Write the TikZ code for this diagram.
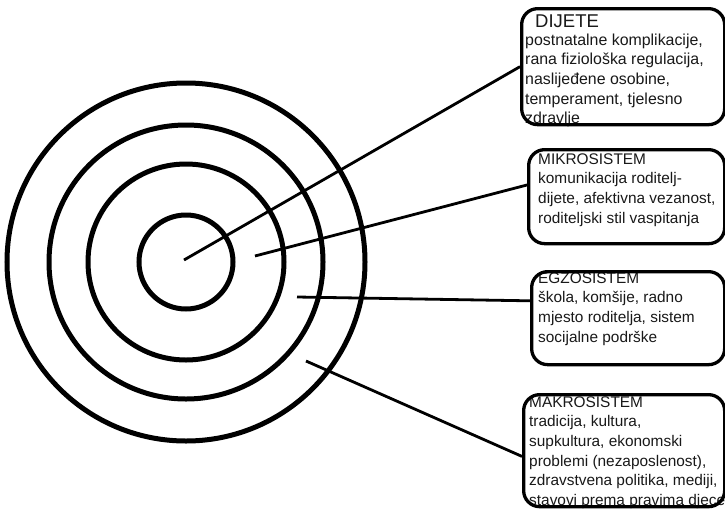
\documentclass[tikz,border=0pt]{standalone}
\usepackage{fontspec}
\setmainfont{Liberation Sans}
\usetikzlibrary{calc}
\newcommand\bodyfont{\fontsize{15.4}{19.6}\selectfont}
\newcommand\bigbodyfont{\fontsize{15.9}{19.6}\selectfont}
\newcommand\titlefont{\fontsize{18.5}{21}\selectfont}
\tikzset{
  ring/.style={line width=5pt},
  conn/.style={line width=2.8pt},
  infobox/.style={draw, line width=3.3pt, rounded corners=16pt, inner sep=0pt, anchor=north west},
  boxtext/.style={anchor=north west, inner sep=0pt, align=left, font=\bodyfont, text=black!90},
}
\begin{document}
\begin{tikzpicture}[x=1pt, y=-1pt]
\useasboundingbox (0,0) rectangle (725,509);
\clip (0,0) rectangle (725,509);
\fill[white] (0,0) rectangle (725,509);
% rings
\coordinate (ctr) at (186,262);
\draw[ring] (ctr) circle[radius=47pt];
\draw[ring] (ctr) circle[radius=98pt];
\draw[ring] (ctr) circle[radius=137pt];
\draw[ring] (ctr) circle[radius=179pt];
% texts
\node[anchor=base west, inner sep=0pt, font=\titlefont, text=black!90] (t1h) at (535,27) {DIJETE};
\node[boxtext, font=\bigbodyfont] (t1) at (525,31) {\rule{0pt}{14pt}postnatalne komplikacije,\\rana fiziološka regulacija,\\naslijeđene osobine,\\temperament, tjelesno\\zdravlje};
\node[boxtext] (t2) at (538,150) {\rule{0pt}{14pt}MIKROSISTEM\\komunikacija roditelj-\\dijete, afektivna vezanost,\\roditeljski stil vaspitanja};
\node[boxtext] (t3) at (538,269) {\rule{0pt}{14pt}EGZOSISTEM\\škola, komšije, radno\\mjesto roditelja, sistem\\socijalne podrške};
\node[boxtext] (t4) at (529,393) {\rule{0pt}{14pt}MAKROSISTEM\\tradicija, kultura,\\supkultura, ekonomski\\problemi (nezaposlenost),\\zdravstvena politika, mediji,\\stavovi prema pravima djece};
% boxes
\node[infobox, minimum width=203pt, minimum height=116pt] (b1) at (520,7) {};
\node[infobox, minimum width=196pt, minimum height=94pt] (b2) at (527,148) {};
\node[infobox, minimum width=193pt, minimum height=93pt] (b3) at (530,270) {};
\node[infobox, minimum width=201pt, minimum height=112pt] (b4) at (522,393) {};
% connectors
\coordinate (c1) at (184,260);
\coordinate (c2) at (255,256);
\coordinate (c3) at (297,297);
\coordinate (c4) at (306,361);
\draw[conn] (c1) -- (b1.west);
\draw[conn] (c2) -- ($(b2.north west)!0.38!(b2.south west)$);
\draw[conn] (c3) -- ($(b3.north west)!0.32!(b3.south west)$);
\draw[conn] (c4) -- ($(b4.north west)!0.55!(b4.south west)$);
\end{tikzpicture}
\end{document}
